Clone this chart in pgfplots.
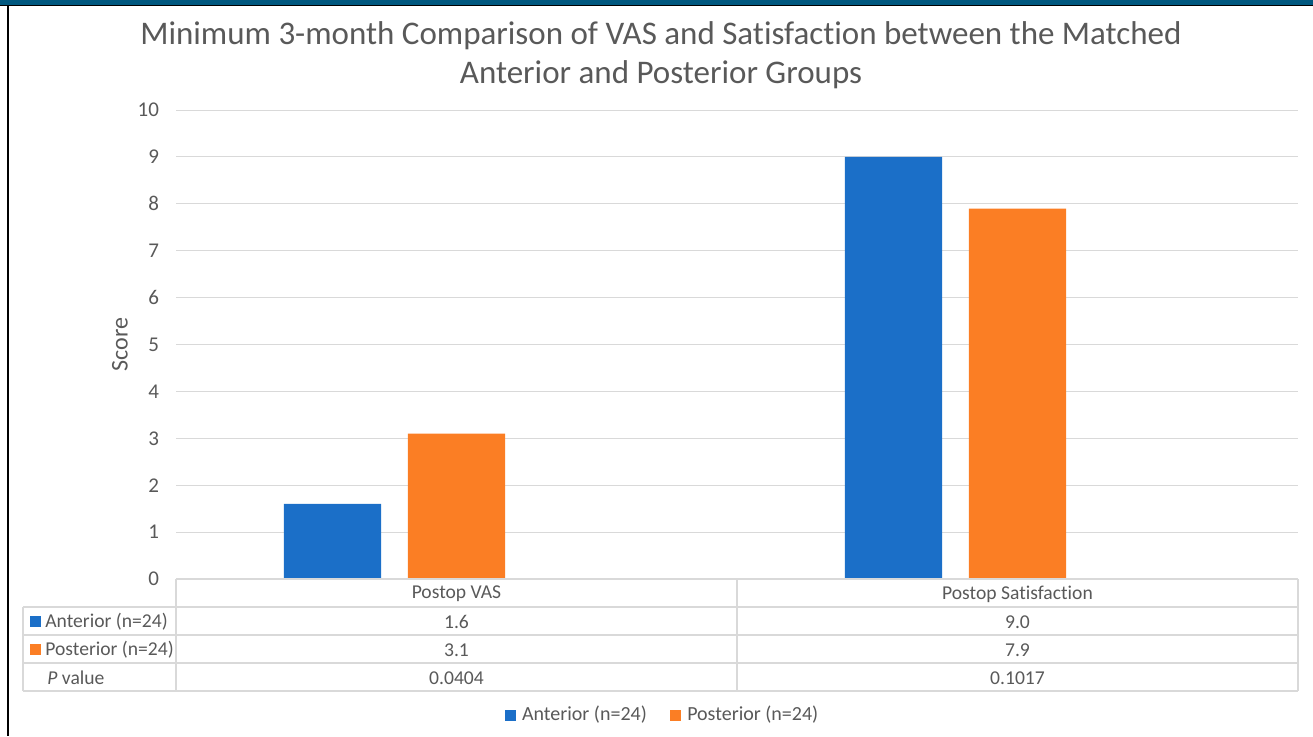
\documentclass[border=0pt]{standalone}
\usepackage{fontspec}
\setmainfont{Carlito}[Ligatures=NoCommon]
\usepackage{pgfplots}
\pgfplotsset{compat=1.18}
\definecolor{antblue}{HTML}{1B6FC8}
\definecolor{postorange}{HTML}{FB7E24}
\definecolor{txtgray}{HTML}{595959}
\definecolor{gridgray}{HTML}{D9D9D9}
\definecolor{topstrip}{HTML}{00587F}
\begin{document}
\begin{tikzpicture}
% canvas
\path[use as bounding box] (0pt,0pt) rectangle (656.5pt,-368pt);
\fill[topstrip] (0pt,0pt) rectangle (656.5pt,-2.6pt);
\draw[black,line width=0.6pt] (0pt,-2.9pt) -- (656.5pt,-2.9pt);
\draw[black,line width=0.8pt] (3.9pt,-2.9pt) -- (3.9pt,-368pt);
\begin{axis}[
  at={(88pt,-289.5pt)}, anchor=south west,
  scale only axis, width=561pt, height=234.5pt,
  xmin=-0.5, xmax=1.5, ymin=0, ymax=10,
  ytick={0,1,...,10}, xtick=\empty,
  ymajorgrids, grid style={gridgray, line width=0.5pt},
  axis line style={draw=none}, tick style={draw=none},
  yticklabel style={font=\fontsize{10.5}{12}\selectfont, text=txtgray, xshift=-5pt},
  /pgf/number format/assume math mode=true,
  ylabel={Score}, ylabel style={font=\fontsize{12}{14}\selectfont, text=txtgray, at={(axis description cs:-0.0499,0.5)}, anchor=center},
  ybar, bar width=0.173,
  clip=false,
  legend columns=2,
  legend style={draw=none, fill=none, at={(axis description cs:0.434,-0.29)}, anchor=center,
    font=\fontsize{10}{12}\selectfont, text=txtgray, column sep=0pt,
    nodes={inner sep=1.5pt},
    /tikz/every even column/.append style={column sep=10pt}},
  legend image code/.code={\fill[#1] (0pt,-2.75pt) rectangle (5.5pt,2.75pt); \path (7.2pt,0pt);},
]
\addplot[fill=antblue, draw=none, bar shift=-0.221] coordinates {(0,1.6) (1,9.0)};
\addlegendentry{Anterior (n=24)}
\addplot[fill=postorange, draw=none, bar shift=0] coordinates {(0,3.1) (1,7.9)};
\addlegendentry{Posterior (n=24)}
\end{axis}
% data table (pixel coords * 0.5pt)
\begin{scope}[gridgray, line width=0.6pt]
\draw (88pt,-289.5pt) -- (649pt,-289.5pt);
\draw (11.5pt,-303.5pt) -- (649pt,-303.5pt);
\draw (11.5pt,-317.5pt) -- (649pt,-317.5pt);
\draw (11.5pt,-331.5pt) -- (649pt,-331.5pt);
\draw (11.5pt,-345.5pt) -- (649pt,-345.5pt);
\draw (11.5pt,-303.5pt) -- (11.5pt,-345.5pt);
\draw (88pt,-289.5pt) -- (88pt,-345.5pt);
\draw (368.5pt,-289.5pt) -- (368.5pt,-345.5pt);
\draw (649pt,-289.5pt) -- (649pt,-345.5pt);
\end{scope}
\begin{scope}[every node/.style={font=\fontsize{9.8}{11}\selectfont, text=txtgray, inner sep=0pt}]
\node at (228.25pt,-297pt) {Postop VAS};
\node at (508.75pt,-297pt) {Postop Satisfaction};
\fill[antblue] (15pt,-307.75pt) rectangle (20.5pt,-313.25pt);
\node[anchor=west] at (22.5pt,-311pt) {Anterior (n=24)};
\fill[postorange] (15pt,-321.75pt) rectangle (20.5pt,-327.25pt);
\node[anchor=west] at (22.5pt,-325pt) {Posterior (n=24)};
\node[anchor=west] at (23.5pt,-339pt) {\textit{P} value};
\node at (228.25pt,-311pt) {1.6};
\node at (508.75pt,-311pt) {9.0};
\node at (228.25pt,-325pt) {3.1};
\node at (508.75pt,-325pt) {7.9};
\node at (228.25pt,-339pt) {0.0404};
\node at (508.75pt,-339pt) {0.1017};
\end{scope}
% title
\node[font=\fontsize{16.5}{19.5}\selectfont, text=txtgray, align=center] at (330.5pt,-27.5pt)
  {Minimum 3-month Comparison of VAS and Satisfaction between the Matched\\Anterior and Posterior Groups};
\end{tikzpicture}
\end{document}
